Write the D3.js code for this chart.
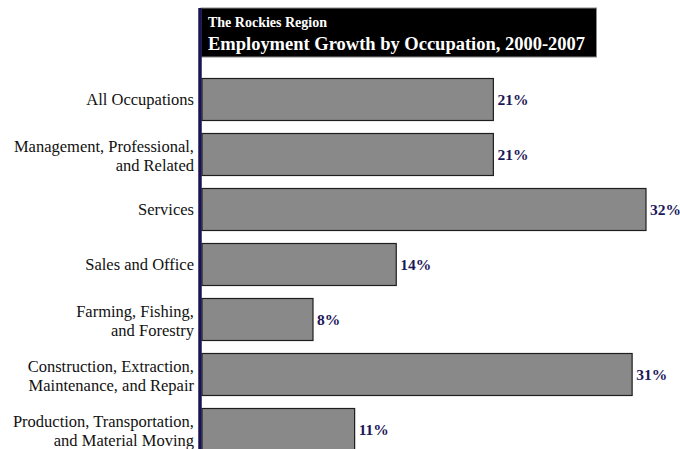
<!DOCTYPE html>
<html><head><meta charset="utf-8">
<script src="https://cdn.jsdelivr.net/npm/d3@7"></script>
<style>
html,body{margin:0;padding:0;background:#fff;}
svg text{font-family:"Liberation Serif","DejaVu Serif",serif;}
</style></head>
<body>
<script>
const categories = [
  ["All Occupations"],
  ["Management, Professional,", "and Related"],
  ["Services"],
  ["Sales and Office"],
  ["Farming, Fishing,", "and Forestry"],
  ["Construction, Extraction,", "Maintenance, and Repair"],
  ["Production, Transportation,", "and Material Moving"]
];
const values = [21, 21, 32, 14, 8, 31, 11];
const valueLabels = ["21%", "21%", "32%", "14%", "8%", "31%", "11%"];
const subtitle = "The Rockies Region";
const title = "Employment Growth by Occupation, 2000-2007";

const W = 680, H = 449;
const FONT = "'Liberation Serif', 'DejaVu Serif', serif";
const svg = d3.select("body").append("svg").attr("width", W).attr("height", H);

const x0 = 202;
const x = d3.scaleLinear().domain([0, 32]).range([x0, 646]);
const y = d3.scaleBand().domain(d3.range(values.length)).range([78 - 6.5, 78 - 6.5 + 55 * 7]).paddingInner(13/55).paddingOuter(6.5/55);

// title box
svg.append("rect").attr("x", 201).attr("y", 8).attr("width", 395.5).attr("height", 49)
  .attr("fill", "#000").attr("stroke", "#8a8a8a").attr("stroke-width", 1);
svg.append("text").attr("x", 208).attr("y", 27).attr("fill", "#fff").attr("font-family", FONT)
  .attr("font-size", 14).attr("font-weight", "bold").text(subtitle);
svg.append("text").attr("x", 208).attr("y", 50).attr("fill", "#fff").attr("font-family", FONT)
  .attr("font-size", 18.5).attr("font-weight", "bold").attr("textLength", 377).attr("lengthAdjust", "spacing").text(title);

// bars
svg.selectAll("rect.bar").data(values).enter().append("rect").attr("class", "bar")
  .attr("x", x(0)).attr("y", (d, i) => y(i) + 0.5)
  .attr("width", d => x(d) - x(0)).attr("height", y.bandwidth())
  .attr("fill", "#898989").attr("stroke", "#1e1e1e").attr("stroke-width", 1.2);

// value labels
svg.selectAll("text.val").data(values).enter().append("text").attr("class", "val")
  .attr("x", d => x(d) + 4).attr("y", (d, i) => y(i) + y.bandwidth() / 2 + 6)
  .attr("fill", "#1c1858").attr("font-size", 15.5).attr("font-weight", "bold").attr("font-family", FONT)
  .text((d, i) => valueLabels[i]);

// category labels
const lab = svg.selectAll("text.cat").data(categories).enter().append("text").attr("class", "cat")
  .attr("text-anchor", "end").attr("font-size", 16.5).attr("fill", "#111").attr("font-family", FONT);
lab.each(function(lines, i) {
  const t = d3.select(this);
  const c = y(i) + y.bandwidth() / 2;
  const start = lines.length === 1 ? c + 5.5 : c - 2.5;
  lines.forEach((ln, j) => {
    t.append("tspan").attr("x", 194).attr("y", start + j * 19.5).text(ln);
  });
});

// axis line
svg.append("line").attr("x1", 200).attr("x2", 200).attr("y1", 8).attr("y2", H)
  .attr("stroke", "#1a1452").attr("stroke-width", 3.5);
</script>
</body></html>
